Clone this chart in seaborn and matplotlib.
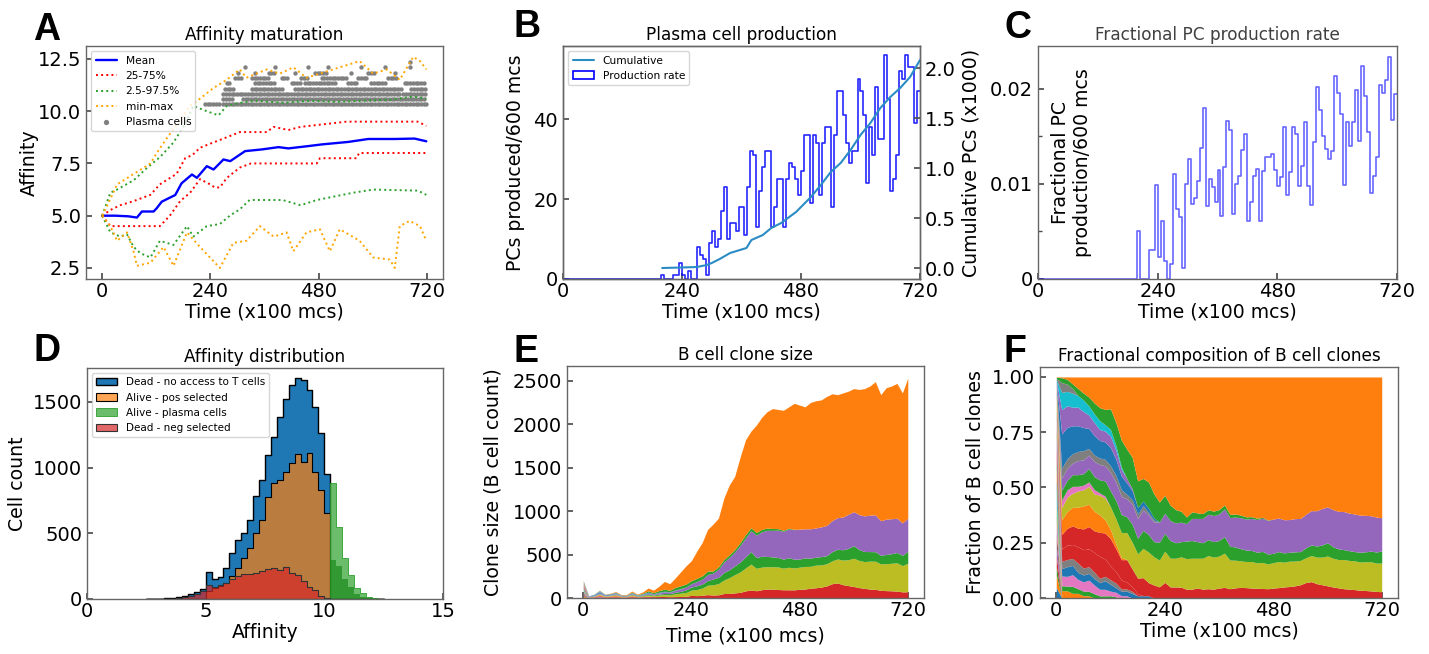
import numpy as np
import matplotlib
matplotlib.use("Agg")
import matplotlib.pyplot as plt
from matplotlib.lines import Line2D
from matplotlib.patches import Patch
import seaborn as sns

# ============================================================================
# Panel A - affinity maturation (time in x100 mcs)
# ============================================================================

mean_time = [0, 29, 58, 77, 88, 114, 121, 132, 162, 176, 199, 210, 232, 247, 269,
             284, 317, 354, 391, 413, 457, 487, 546, 590, 649, 693, 719]
mean_aff = [5.0, 5.0, 4.97, 4.91, 5.2, 5.2, 5.36, 5.67, 5.99, 6.55, 6.97, 6.81, 7.37,
            7.21, 7.69, 7.61, 8.09, 8.17, 8.28, 8.22, 8.33, 8.41, 8.53, 8.67, 8.67, 8.69, 8.56]

q75_time = [0, 18, 40, 70, 107, 128, 150, 165, 184, 200, 217, 246, 276, 305, 365,
            380, 413, 440, 542, 700, 719]
q75_aff = [5.0, 5.27, 5.5, 5.7, 6.0, 6.5, 6.8, 7.0, 7.75, 7.9, 8.25, 8.5, 8.75, 9.0,
           9.0, 9.25, 9.1, 9.25, 9.5, 9.5, 9.3]

q25_time = [0, 18, 60, 128, 150, 173, 195, 217, 239, 250, 261, 276, 305, 330, 365,
            476, 483, 564, 570, 719]
q25_aff = [5.0, 4.5, 4.5, 4.5, 5.0, 5.7, 6.1, 6.75, 6.5, 6.35, 6.35, 6.8, 7.3, 7.5,
           7.5, 7.5, 7.75, 7.75, 8.0, 8.0]

q975_time = [0, 18, 33, 70, 100, 128, 158, 184, 202, 232, 258, 276, 305, 340, 400,
             460, 520, 580, 640, 690, 719]
q975_aff = [5.0, 6.1, 6.25, 6.7, 7.3, 7.8, 8.5, 9.4, 10.25, 10.0, 9.8, 10.25, 10.4,
            10.5, 10.4, 10.5, 10.45, 10.5, 10.55, 10.7, 10.6]

q025_time = [0, 18, 40, 55, 70, 85, 107, 128, 158, 188, 202, 232, 261, 283, 305, 327,
             400, 440, 476, 557, 601, 700, 719]
q025_aff = [5.0, 4.2, 4.0, 4.1, 3.5, 3.2, 3.0, 3.8, 3.6, 4.5, 4.0, 4.5, 4.6, 5.0, 5.3,
            5.75, 5.75, 5.5, 5.75, 6.1, 6.25, 6.2, 6.0]

max_time = [0, 18, 33, 70, 107, 121, 143, 173, 195, 217, 246, 276, 305, 320, 365, 394,
            424, 453, 483, 512, 542, 571, 601, 631, 660, 690, 705, 719]
max_aff = [5.0, 5.8, 6.5, 7.0, 7.5, 8.0, 8.7, 9.6, 10.25, 10.6, 11.1, 11.5, 12.0, 11.6,
           12.0, 11.8, 12.1, 11.6, 11.8, 12.0, 12.2, 12.4, 11.8, 12.0, 11.5, 12.6, 12.4, 12.0]

min_time = [0, 18, 33, 55, 70, 77, 107, 136, 158, 188, 217, 261, 291, 320, 350, 380,
            409, 424, 453, 483, 505, 527, 571, 601, 638, 649, 660, 682, 705, 719]
min_aff = [5.0, 4.5, 3.8, 4.2, 3.25, 2.6, 2.75, 3.5, 2.6, 4.2, 3.5, 2.5, 3.7, 3.8, 4.5,
           4.0, 4.2, 3.3, 4.2, 4.35, 3.3, 4.35, 3.8, 3.0, 2.9, 2.5, 4.5, 4.75, 4.5, 3.8]

# plasma cells: affinity level -> time spans where PCs were recorded (every 6 units)
pc_levels = [10.35, 10.58, 10.82, 11.08, 11.33, 11.57, 11.84, 12.12, 12.37]
pc_spans = [
    [(228, 258), (269, 719)],
    [(269, 292), (312, 719)],
    [(269, 660), (668, 719)],
    [(272, 295), (332, 398), (428, 664), (686, 716)],
    [(276, 287), (339, 383), (420, 442), (450, 516), (546, 568), (597, 627), (671, 716)],
    [(295, 309), (332, 369), (398, 413), (442, 457), (487, 546), (568, 590), (634, 656)],
    [(302, 302), (339, 339), (369, 383), (428, 428), (472, 501), (553, 553), (590, 605), (649, 649)],
    [(317, 317), (383, 383), (457, 457), (501, 501), (575, 575), (627, 627), (682, 682)],
    [(682, 682)],
]

# ============================================================================
# Panels B/C - plasma cell production per 600 mcs bin (bins start at 198)
# ============================================================================

pc_first_bin = 198
pc_produced = [1, 0, 0, 0, 1, 1, 4, 1, 0, 2, 0, 0, 8, 6, 5, 1, 9, 12, 8, 10, 17, 23,
               10, 14, 14, 12, 18, 18, 11, 23, 32, 31, 13, 22, 28, 32, 32, 13, 18, 25,
               25, 13, 25, 29, 28, 25, 21, 27, 36, 36, 19, 36, 34, 21, 34, 38, 38, 18,
               36, 47, 47, 41, 34, 29, 32, 32, 50, 47, 41, 24, 38, 31, 48, 35, 35, 56,
               45, 22, 25, 31, 52, 50, 56, 53, 53, 39, 47]
pc_fraction = [0.005, 0, 0, 0, 0.003, 0.003, 0.0099, 0.0023, 0.0061, 0.0019, 0, 0.0016,
               0.011, 0.0074, 0.0065, 0.0012, 0.010, 0.0126, 0.0079, 0.0085, 0.0103,
               0.0138, 0.018, 0.0077, 0.0105, 0.0097, 0.0081, 0.0115, 0.0066, 0.0118,
               0.0166, 0.0157, 0.0068, 0.0100, 0.0108, 0.0136, 0.0152, 0.0061, 0.0081,
               0.0108, 0.0116, 0.0061, 0.0114, 0.0128, 0.0128, 0.0131, 0.0115, 0.0098,
               0.0107, 0.0160, 0.0088, 0.0113, 0.0160, 0.0152, 0.0098, 0.0119, 0.0165,
               0.0098, 0.0078, 0.0144, 0.0202, 0.0178, 0.0150, 0.0137, 0.0126, 0.0135,
               0.0213, 0.0196, 0.0173, 0.0099, 0.0165, 0.0140, 0.0165, 0.0199, 0.0145,
               0.0224, 0.0192, 0.0155, 0.0090, 0.0108, 0.0128, 0.0204, 0.0196, 0.0209,
               0.0233, 0.0167, 0.0195]

cum_time = [200, 240, 270, 290, 300, 316, 337, 370, 380, 403, 420, 440, 470, 500, 520,
            540, 560, 580, 600, 620, 640, 660, 680, 700, 720]
cum_pcs = [0.0, 0.005, 0.01, 0.03, 0.05, 0.09, 0.15, 0.20, 0.28, 0.33, 0.40, 0.45, 0.56,
           0.71, 0.83, 0.96, 1.05, 1.18, 1.33, 1.45, 1.60, 1.71, 1.80, 1.91, 2.08]

# ============================================================================
# Panel D - affinity distribution (bins of 0.25 from 2.5)
# ============================================================================

aff_first_bin = 2.5
no_access = [0, 2, 3, 5, 10, 18, 23, 38, 56, 74, 208, 150, 170, 233, 348, 449, 500,
             601, 784, 906, 1096, 1236, 1388, 1520, 1629, 1680, 1667, 1591, 1464, 1261, 949]
pos_selected = [0, 0, 0, 0, 0, 0, 0, 0, 0, 0, 60, 80, 100, 125, 175, 235, 310, 385,
                500, 600, 780, 880, 905, 970, 1035, 1105, 1045, 1110, 970, 830, 655]
plasma = [0] * 31 + [886, 551, 310, 183, 81, 43, 18, 5, 0]
plasma_core = [0] * 31 + [297, 250, 150, 90, 40, 15, 5, 0, 0]
neg_selected = [0, 0, 0, 0, 3, 5, 12, 22, 35, 60, 105, 95, 110, 125, 150, 175, 190,
                190, 200, 215, 232, 235, 222, 240, 200, 180, 140, 95, 70, 25, 5]

# ============================================================================
# Panels E/F - B cell clones, sampled every 12 (x100 mcs)
# ============================================================================

clone_times = list(range(0, 721, 12))
total_cells = [200, 25, 45, 90, 45, 55, 75, 40, 40, 80, 45, 70, 115, 90, 135, 190, 165,
               230, 300, 370, 430, 540, 640, 790, 850, 920, 1150, 1300, 1400, 1620, 1820,
               1920, 1990, 2080, 2145, 2180, 2170, 2160, 2200, 2240, 2220, 2200, 2250,
               2270, 2280, 2320, 2350, 2340, 2360, 2380, 2410, 2400, 2410, 2440, 2490,
               2340, 2420, 2440, 2470, 2360, 2530]

# clone shares, bottom to top of the stack
founders_t0 = [0.05, 0.06, 0.04, 0.05, 0.05, 0.06, 0.05, 0.04, 0.05, 0.06, 0.05, 0.05,
               0.04, 0.06, 0.05, 0.05, 0.04, 0.05, 0.06]
orange_early = [0.005, 0.03, 0.03, 0.02, 0.02, 0.01, 0.01]
green_early = [0.005, 0.02, 0.02, 0.03, 0.02, 0.02, 0.02, 0.02, 0.01, 0.01, 0.01, 0.005]
pink_small = [0.005, 0.04, 0.04, 0.05, 0.04, 0.04, 0.05, 0.04, 0.03, 0.03, 0.02, 0.02,
              0.01, 0.01]
blue_small = [0.005, 0.03, 0.04, 0.04, 0.03, 0.03, 0.03, 0.03, 0.03, 0.04, 0.03, 0.02,
              0.02, 0.02, 0.02, 0.01, 0.01, 0.01]
gray_small = [0.005, 0.03, 0.03, 0.03, 0.04, 0.03, 0.03, 0.03, 0.02, 0.02, 0.02, 0.02,
              0.01, 0.01, 0.01]
red_small = [0.005, 0.05, 0.06, 0.06, 0.07, 0.08, 0.08, 0.09, 0.10, 0.08, 0.06, 0.05,
             0.04, 0.03, 0.02, 0.01]
red_main = [0.005, 0.06, 0.07, 0.08, 0.08, 0.09, 0.10, 0.10, 0.11, 0.12, 0.12, 0.10,
            0.09, 0.10, 0.08, 0.07, 0.08, 0.06, 0.06, 0.05, 0.07, 0.05, 0.05, 0.05, 0.04,
            0.040, 0.045, 0.040, 0.042, 0.040, 0.045, 0.048, 0.042, 0.046, 0.048, 0.047,
            0.045, 0.044, 0.043, 0.042, 0.045, 0.047, 0.050, 0.052, 0.055, 0.060, 0.070,
            0.074, 0.065, 0.060, 0.055, 0.050, 0.046, 0.042, 0.040, 0.038, 0.035, 0.034,
            0.032, 0.030, 0.028]
orange2 = [0.005, 0.06, 0.07, 0.08, 0.09, 0.10, 0.10, 0.09, 0.08, 0.06, 0.04, 0.02, 0.01]
olive_main = [0.005, 0.05, 0.06, 0.06, 0.07, 0.07, 0.08, 0.08, 0.09, 0.10, 0.10, 0.11,
              0.11, 0.12, 0.12, 0.11, 0.13, 0.14, 0.13, 0.12, 0.14, 0.13, 0.13, 0.14, 0.14,
              0.140, 0.135, 0.140, 0.150, 0.145, 0.145, 0.155, 0.130, 0.125, 0.120, 0.118,
              0.120, 0.115, 0.118, 0.112, 0.115, 0.118, 0.112, 0.115, 0.112, 0.110, 0.112,
              0.118, 0.120, 0.125, 0.135, 0.130, 0.128, 0.132, 0.130, 0.130, 0.128, 0.130,
              0.132, 0.128, 0.130]
pink2 = [0.005, 0.03, 0.03, 0.03, 0.02, 0.02, 0.02, 0.02, 0.01, 0.01]
green_main = [0.005, 0.04, 0.04, 0.05, 0.05, 0.05, 0.06, 0.06, 0.06, 0.07, 0.07, 0.08,
              0.08, 0.07, 0.08, 0.07, 0.08, 0.08, 0.07, 0.08, 0.08, 0.08, 0.07, 0.07, 0.08,
              0.080, 0.075, 0.070, 0.072, 0.070, 0.070, 0.075, 0.062, 0.060, 0.055, 0.052,
              0.050, 0.048, 0.050, 0.045, 0.042, 0.045, 0.042, 0.040, 0.042, 0.040, 0.045,
              0.048, 0.050, 0.055, 0.060, 0.052, 0.048, 0.045, 0.044, 0.042, 0.044, 0.045,
              0.048, 0.050, 0.055]
purple_main = [0.005, 0.05, 0.05, 0.05, 0.06, 0.06, 0.06, 0.07, 0.07, 0.07, 0.08, 0.08,
               0.08, 0.08, 0.09, 0.09, 0.09, 0.09, 0.09, 0.09, 0.09, 0.09, 0.09, 0.09, 0.08,
               0.100, 0.105, 0.110, 0.115, 0.118, 0.120, 0.125, 0.130, 0.135, 0.140, 0.140,
               0.145, 0.148, 0.150, 0.152, 0.155, 0.152, 0.150, 0.148, 0.150, 0.150, 0.152,
               0.155, 0.160, 0.165, 0.162, 0.168, 0.170, 0.172, 0.170, 0.170, 0.168, 0.165,
               0.160, 0.158, 0.150]
gray_mid = [0.005, 0.04, 0.04, 0.04, 0.04, 0.04, 0.03, 0.03, 0.03, 0.03, 0.03, 0.03,
            0.03, 0.02, 0.02, 0.02, 0.02, 0.01, 0.01]
blue2 = [0.005, 0.14, 0.13, 0.12, 0.11, 0.10, 0.09, 0.09, 0.08, 0.08, 0.08, 0.07, 0.06,
         0.05, 0.04, 0.03, 0.02, 0.02, 0.01]
purple2 = [0.005, 0.10, 0.09, 0.08, 0.08, 0.07, 0.06, 0.06, 0.05, 0.05, 0.05, 0.04, 0.03,
           0.02, 0.01]
cyan2 = [0.005, 0.07, 0.06, 0.06, 0.05, 0.05, 0.04, 0.04, 0.04, 0.03, 0.03, 0.02, 0.01]
gray_top = [0.005, 0.04, 0.03, 0.02]
green2 = [0.005, 0.02, 0.02, 0.02, 0.03, 0.03, 0.04, 0.05, 0.06, 0.07, 0.09, 0.10, 0.12,
          0.13, 0.14, 0.12, 0.10, 0.12, 0.11, 0.09, 0.08, 0.07, 0.06, 0.05, 0.03,
          0.03, 0.025, 0.022, 0.02, 0.02, 0.02, 0.018, 0.015, 0.014, 0.012, 0.01, 0.008,
          0.006, 0.004, 0.002]
orange_main = [0.002, 0.003, 0.01, 0.03, 0.05, 0.07, 0.09, 0.12, 0.14, 0.15, 0.14, 0.20,
               0.28, 0.32, 0.36, 0.47, 0.45, 0.48, 0.54, 0.56, 0.53, 0.58, 0.60, 0.62, 0.64,
               0.610, 0.615, 0.618, 0.601, 0.607, 0.600, 0.579, 0.621, 0.620, 0.625, 0.633,
               0.632, 0.639, 0.635, 0.647, 0.643, 0.638, 0.646, 0.645, 0.641, 0.640, 0.621,
               0.605, 0.605, 0.595, 0.588, 0.600, 0.608, 0.609, 0.616, 0.620, 0.625, 0.626,
               0.628, 0.634, 0.637]

# ============================================================================
# Style
# ============================================================================

sns.set_theme(style="white")
plt.rcParams.update({
    "font.family": ["DejaVu Sans"],
    "xtick.direction": "in",
    "ytick.direction": "in",
    "xtick.bottom": True,
    "ytick.left": True,
    "xtick.major.size": 4,
    "ytick.major.size": 4,
    "ytick.minor.size": 3,
    "xtick.labelsize": 14,
    "ytick.labelsize": 14,
    "xtick.major.pad": 2.5,
    "xtick.color": "0.3",
    "ytick.color": "0.3",
    "xtick.labelcolor": "black",
    "ytick.labelcolor": "black",
    "axes.edgecolor": "0.4",
    "axes.linewidth": 1.0,
    "axes.labelcolor": "black",
    "axes.titlesize": 12.2,
    "axes.labelsize": 13.6,
    "legend.fontsize": 7.7,
    "text.color": "black",
})

W, H = 1429, 654
fig = plt.figure(figsize=(W / 100, H / 100), dpi=100)


def add_axes(left, top, right, bottom):
    return fig.add_axes([left / W, 1 - bottom / H, (right - left) / W, (bottom - top) / H])


ax_a = add_axes(86, 46, 443, 279)
ax_b = add_axes(563, 46, 920, 279)
ax_c = add_axes(1038, 46, 1397, 279)
ax_d = add_axes(87, 368, 443, 599)
ax_e = add_axes(567, 366, 924, 598)
ax_f = add_axes(1040, 367, 1398, 598)

time_ticks = [0, 240, 480, 720]

# ============================================================================
# A - Affinity maturation
# ============================================================================

sns.lineplot(x=mean_time, y=mean_aff, ax=ax_a, color="blue", lw=1.7, label="Mean")
sns.lineplot(x=q75_time, y=q75_aff, ax=ax_a, color="red", lw=1.4, linestyle=":", label="25-75%")
sns.lineplot(x=q25_time, y=q25_aff, ax=ax_a, color="red", lw=1.4, linestyle=":")
sns.lineplot(x=q975_time, y=q975_aff, ax=ax_a, color="#2ca02c", lw=1.4, linestyle=":", label="2.5-97.5%")
sns.lineplot(x=q025_time, y=q025_aff, ax=ax_a, color="#2ca02c", lw=1.4, linestyle=":")
sns.lineplot(x=max_time, y=max_aff, ax=ax_a, color="orange", lw=1.4, linestyle=":", label="min-max")
sns.lineplot(x=min_time, y=min_aff, ax=ax_a, color="orange", lw=1.4, linestyle=":")

pc_t, pc_a = [], []
for level, spans in zip(pc_levels, pc_spans):
    for start, end in spans:
        for t in range(start, end + 1, 6):
            pc_t.append(t)
            pc_a.append(level)
sns.scatterplot(x=pc_t, y=pc_a, ax=ax_a, color="gray", s=10, linewidth=0, label="Plasma cells")

ax_a.set_xlim(-36, 756)
ax_a.set_ylim(1.97, 13.12)
ax_a.set_xticks(time_ticks)
ax_a.set_yticks([2.5, 5.0, 7.5, 10.0, 12.5])
ax_a.set_title("Affinity maturation", pad=4)
ax_a.set_xlabel("Time (x100 mcs)", labelpad=1)
ax_a.set_ylabel("Affinity")
ax_a.yaxis.set_label_coords(-0.132, 0.5)
ax_a.legend(loc="upper left", fontsize=7.7, markerscale=1.2)

# ============================================================================
# B - Plasma cell production
# ============================================================================

n_pre = pc_first_bin // 6
pc_counts_all = [0] * n_pre + pc_produced
pc_edges = [6 * i for i in range(len(pc_counts_all) + 1)]
pc_centers = [e + 3 for e in pc_edges[:-1]]

sns.histplot(x=pc_centers, weights=pc_counts_all, bins=pc_edges, element="step",
             fill=False, color="blue", alpha=0.85, lw=1.2, ax=ax_b)
ax_b.set_xlim(0, 720)
ax_b.set_ylim(0, 58.3)
ax_b.set_xticks(time_ticks)
ax_b.set_yticks([0, 20, 40])
ax_b.set_title("Plasma cell production", pad=4)
ax_b.set_xlabel("Time (x100 mcs)", labelpad=1)
ax_b.set_ylabel("PCs produced/600 mcs")
ax_b.yaxis.set_label_coords(-0.106, 0.5)

ax_b2 = ax_b.twinx()
sns.lineplot(x=cum_time, y=cum_pcs, ax=ax_b2, color="#2b8cc4", lw=1.5)
ax_b2.set_ylim(-0.11, 2.22)
ax_b2.set_yticks([0.0, 0.5, 1.0, 1.5, 2.0])
ax_b2.set_yticklabels(["0.0", "0.5", "1.0", "1.5", "2.0"])
ax_b2.tick_params(axis="y", direction="in", right=True, length=4, labelsize=14)
ax_b2.set_ylabel("Cumulative PCs (x1000)")
ax_b2.yaxis.set_label_coords(1.115, 0.5)
ax_b2.legend([Line2D([], [], color="#2b8cc4", lw=1.5),
              Patch(facecolor="none", edgecolor="blue", lw=1.2)],
             ["Cumulative", "Production rate"], loc="upper left", fontsize=7.7)

# ============================================================================
# C - Fractional PC production rate
# ============================================================================

frac_all = [0] * n_pre + pc_fraction
sns.histplot(x=pc_centers, weights=frac_all, bins=pc_edges, element="step",
             fill=False, color="blue", alpha=0.6, lw=1.2, ax=ax_c)
ax_c.set_xlim(0, 720)
ax_c.set_ylim(0, 0.0245)
ax_c.set_xticks(time_ticks)
ax_c.set_yticks([0, 0.01, 0.02])
ax_c.set_yticklabels(["0", "0.01", "0.02"])
ax_c.set_yticks([0.005, 0.015], minor=True)
ax_c.tick_params(axis="y", which="minor", direction="in", left=True, length=3)
ax_c.set_title("Fractional PC production rate", pad=4, color="0.25")
ax_c.set_xlabel("Time (x100 mcs)", labelpad=1)
ax_c.set_ylabel("Fractional PC\nproduction/600 mcs", multialignment="center")
ax_c.yaxis.set_label_coords(0.15, 0.5)

# ============================================================================
# D - Affinity distribution
# ============================================================================

n_bins = 40
aff_edges = [aff_first_bin + 0.25 * i for i in range(n_bins + 1)]
aff_centers = [e + 0.125 for e in aff_edges[:-1]]


def pad_bins(values):
    return values + [0] * (n_bins - len(values))


sns.histplot(x=aff_centers, weights=pad_bins(no_access), bins=aff_edges, element="step",
             fill=True, color="#1f77b4", alpha=1.0, edgecolor="black", lw=1.0,
             label="Dead - no access to T cells", ax=ax_d)
sns.histplot(x=aff_centers, weights=pad_bins(pos_selected), bins=aff_edges, element="step",
             fill=True, color="#ff7f0e", alpha=0.7, edgecolor="black", lw=0.8,
             label="Alive - pos selected", ax=ax_d)
sns.histplot(x=aff_centers, weights=pad_bins(plasma), bins=aff_edges, element="step",
             fill=True, color="#2ca02c", alpha=0.7, edgecolor="#2ca02c", lw=0.6,
             label="Alive - plasma cells", ax=ax_d)
sns.histplot(x=aff_centers, weights=pad_bins(plasma_core), bins=aff_edges, element="step",
             fill=True, color="#1a8a1a", alpha=0.7, edgecolor="none", lw=0, ax=ax_d)
sns.histplot(x=aff_centers, weights=pad_bins(neg_selected), bins=aff_edges, element="step",
             fill=True, color="#d62728", alpha=0.7, edgecolor="#333333", lw=0.8,
             label="Dead - neg selected", ax=ax_d)
ax_d.set_xlim(0, 15)
ax_d.set_ylim(0, 1758)
ax_d.set_xticks([0, 5, 10, 15])
ax_d.set_yticks([0, 500, 1000, 1500])
ax_d.set_title("Affinity distribution", pad=4)
ax_d.set_xlabel("Affinity", labelpad=1)
ax_d.set_ylabel("Cell count")
ax_d.yaxis.set_label_coords(-0.169, 0.5)
ax_d.legend(loc="upper left", fontsize=7.5)

# ============================================================================
# E/F - B cell clones
# ============================================================================

n_t = len(clone_times)
tab = sns.color_palette("tab10")


def pad_time(values):
    return values + [0] * (n_t - len(values))


layers, colors = [], []
for i, share in enumerate(founders_t0):
    layers.append(pad_time([share]))
    colors.append(tab[i % 10])
for share, c in [(orange_early, 1), (green_early, 2), (pink_small, 6), (blue_small, 0),
                 (gray_small, 7), (red_small, 3), (red_main, 3), (orange2, 1),
                 (olive_main, 8), (pink2, 6), (green_main, 2), (purple_main, 4),
                 (gray_mid, 7), (blue2, 0), (purple2, 4), (cyan2, 9), (gray_top, 7),
                 (green2, 2), (orange_main, 1)]:
    layers.append(pad_time(share))
    colors.append(tab[c])

shares = np.array(layers, dtype=float)
fractions = shares / shares.sum(axis=0)
clone_counts = fractions * np.array(total_cells, dtype=float)

ax_e.stackplot(clone_times, clone_counts, colors=colors, linewidth=0)
ax_e.set_xlim(-36, 756)
ax_e.set_ylim(0, 2670)
ax_e.set_xticks(time_ticks)
ax_e.set_yticks([0, 500, 1000, 1500, 2000, 2500])
ax_e.set_title("B cell clone size", pad=4)
ax_e.set_xlabel("Time (x100 mcs)", labelpad=4)
ax_e.set_ylabel("Clone size (B cell count)")
ax_e.yaxis.set_label_coords(-0.182, 0.5)

ax_f.stackplot(clone_times, fractions, colors=colors, linewidth=0)
ax_f.set_xlim(-36, 756)
ax_f.set_ylim(0, 1.045)
ax_f.set_xticks(time_ticks)
ax_f.set_yticks([0, 0.25, 0.5, 0.75, 1.0])
ax_f.set_yticklabels(["0.00", "0.25", "0.50", "0.75", "1.00"])
ax_f.set_title("Fractional composition of B cell clones", pad=4)
ax_f.set_xlabel("Time (x100 mcs)", labelpad=1)
ax_f.set_ylabel("Fraction of B cell clones")
ax_f.yaxis.set_label_coords(-0.154, 0.5)

# ============================================================================
# Panel letters
# ============================================================================

for letter, x, y in [("A", 33, 40), ("B", 513, 37), ("C", 1005, 38),
                     ("D", 33, 361), ("E", 513, 362), ("F", 1003, 362)]:
    fig.text(x / W, 1 - y / H, letter, fontsize=27, fontweight="bold",
             family="Liberation Sans", va="baseline", ha="left")

fig.savefig("out.png", dpi=100)
